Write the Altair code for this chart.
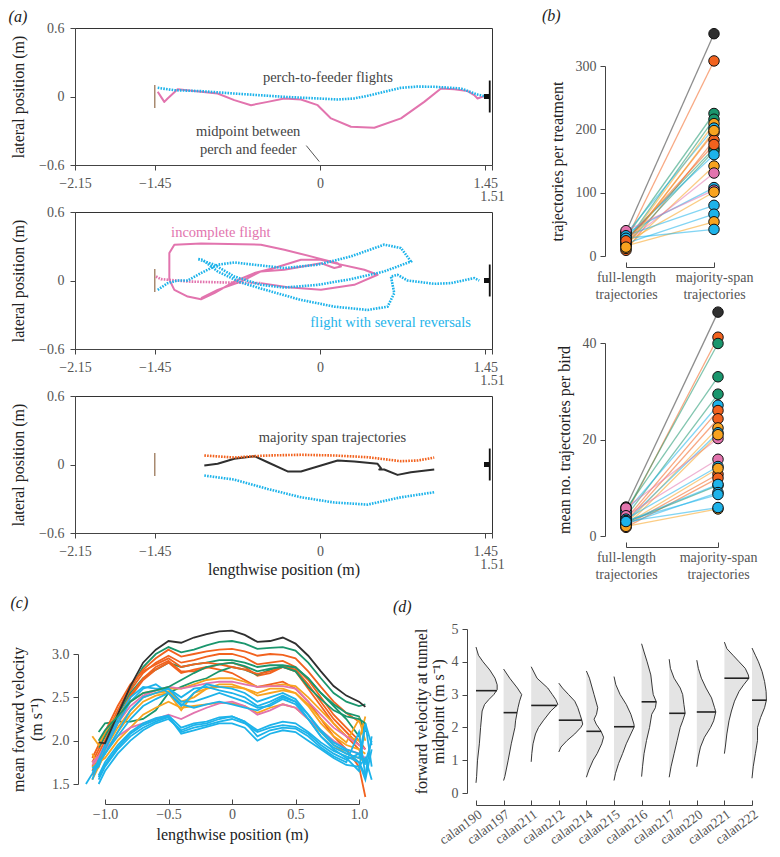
import altair as alt
import pandas as pd

FONT = "Liberation Serif"
BLACK = "#2f2f2f"
VERM = "#f2621e"
GREEN = "#1a966d"
SKY = "#1db3ea"
ORANGE = "#f8a31f"
PINK = "#e274ae"
PERCH = "#a88a70"
LABEL = "#555555"
INK = "#222222"

# ---------------- (a) trajectories (metres) ----------------
A1_BLUE_X = [-1.424, -1.278, -1.044, -0.752, -0.313, -0.020, 0.155, 0.301, 0.418, 0.564, 0.711, 0.857, 1.003, 1.149, 1.237, 1.383, 1.442]
A1_BLUE_Y = [0.076, 0.055, 0.047, 0.026, -0.003, -0.017, -0.026, -0.017, 0.006, 0.041, 0.076, 0.087, 0.085, 0.076, 0.070, 0.017, 0.003]
A1_PINK_X = [-1.424, -1.395, -1.366, -1.337, -1.249, -1.044, -0.898, -0.752, -0.605, -0.459, -0.313, -0.167, -0.020, 0.097, 0.272, 0.477, 0.711, 0.915, 1.062, 1.179, 1.296, 1.354, 1.383, 1.442]
A1_PINK_Y = [0.041, -0.003, -0.047, -0.017, 0.064, 0.041, 0.026, -0.032, -0.076, -0.047, -0.017, -0.026, -0.076, -0.192, -0.265, -0.274, -0.192, -0.047, 0.070, 0.064, 0.047, 0.012, -0.017, 0.003]

A2_PINKD_X = [-1.439, -1.395, -1.161, -0.810, -0.518]
A2_PINKD_Y = [0.035, 0.012, -0.009, -0.018, -0.023]
A2_PINK_X = [-0.518, -0.284, 0.009, 0.301, 0.506, 0.389, 0.126, 0.009, -0.167, -0.401, -0.576, -0.752, -0.927, -1.044, -1.161, -1.278, -1.322, -1.322, -1.278, -1.044, -0.518, -0.313, -0.020, 0.155, 0.184, 0.126, 0.009, -0.313, -0.518, -0.693, -0.898, -1.044]
A2_PINK_Y = [-0.023, -0.059, -0.082, -0.038, 0.050, 0.094, 0.152, 0.182, 0.182, 0.109, 0.065, -0.009, -0.111, -0.164, -0.141, -0.082, 0.006, 0.240, 0.314, 0.323, 0.314, 0.270, 0.196, 0.152, 0.123, 0.109, 0.152, 0.094, 0.079, -0.009, -0.082, -0.155]
A2_BLUE_X = [-1.424, -1.337, -1.249, -1.161, -1.044, -0.898, -0.752, -0.576, -0.313, -0.020, 0.272, 0.564, 0.711, 0.798, 0.564, 0.272, -0.020, -0.313, -0.518, -0.752, -0.927, -1.073, -1.030, -0.898, -0.693, -0.459, -0.167, 0.126, 0.418, 0.594, 0.652, 0.623, 0.681, 0.769, 1.003, 1.149, 1.354, 1.398]
A2_BLUE_Y = [-0.082, -0.023, 0.0, 0.0, 0.065, 0.138, 0.158, 0.138, 0.109, 0.138, 0.211, 0.314, 0.284, 0.167, 0.079, 0.012, -0.038, -0.062, -0.038, 0.035, 0.138, 0.188, 0.182, 0.079, -0.018, -0.088, -0.170, -0.229, -0.258, -0.229, -0.111, 0.035, 0.050, 0.0, -0.029, -0.023, 0.021, 0.0]

A3_ORANGE_X = [-1.015, -0.752, -0.576, -0.459, -0.167, 0.126, 0.418, 0.711, 0.857, 1.003]
A3_ORANGE_Y = [0.079, 0.061, 0.073, 0.079, 0.085, 0.079, 0.064, 0.029, 0.035, 0.061]
A3_BLACK_X = [-1.015, -0.898, -0.752, -0.576, -0.459, -0.284, -0.167, 0.009, 0.155, 0.301, 0.506, 0.535, 0.521, 0.564, 0.681, 0.798, 1.003]
A3_BLACK_Y = [-0.009, 0.006, 0.050, 0.073, 0.020, -0.061, -0.061, -0.009, 0.035, 0.026, 0.006, -0.032, -0.044, -0.044, -0.091, -0.067, -0.044]
A3_BLUE_X = [-1.015, -0.752, -0.459, -0.167, 0.126, 0.418, 0.711, 1.003]
A3_BLUE_Y = [-0.097, -0.132, -0.214, -0.287, -0.333, -0.351, -0.287, -0.243]

A_PATHS = [
    (1, "b", SKY, "dot", A1_BLUE_X, A1_BLUE_Y),
    (1, "p", PINK, "solid", A1_PINK_X, A1_PINK_Y),
    (2, "pd", PINK, "dot", A2_PINKD_X, A2_PINKD_Y),
    (2, "p", PINK, "solid", A2_PINK_X, A2_PINK_Y),
    (2, "b", SKY, "dot", A2_BLUE_X, A2_BLUE_Y),
    (3, "o", VERM, "dot", A3_ORANGE_X, A3_ORANGE_Y),
    (3, "k", BLACK, "solid", A3_BLACK_X, A3_BLACK_Y),
    (3, "b", SKY, "dot", A3_BLUE_X, A3_BLUE_Y),
]
A_TEXT = [
    (1, 0.07, 0.163, "perch-to-feeder flights", "#444444"),
    (1, -0.63, -0.315, "midpoint between", "#444444"),
    (1, -0.63, -0.47, "perch and feeder", "#444444"),
    (2, -0.87, 0.416, "incomplete flight", PINK),
    (2, 0.62, -0.37, "flight with several reversals", SKY),
    (3, 0.11, 0.23, "majority span trajectories", "#444444"),
]
PERCH_X, PERCH_HALF = -1.45, 0.10
FEEDER_X, FEEDER_HALF = 1.49, 0.14
FEEDER_BOX = (1.44, 1.49, 0.022)
MID_POINTER = (-0.12, -0.43, -0.006, -0.57)
A_XTICKS = [-2.15, -1.45, 0, 1.45, 1.51]
A_YTICKS = [-0.6, 0, 0.6]

# ---------------- (b) trajectory counts ----------------
B_CATS = ["full-length trajectories", "majority-span trajectories"]
B1_COLORS = [BLACK, VERM, GREEN, GREEN, ORANGE, SKY, VERM, VERM, GREEN, GREEN, SKY, ORANGE, PINK, SKY, PINK, ORANGE, SKY, SKY, ORANGE, SKY, VERM, ORANGE]
B1_FULL = [38, 25, 30, 22, 20, 35, 18, 9, 25, 18, 30, 12, 21, 36, 40, 22, 32, 20, 16, 28, 24, 14]
B1_MAJ = [351, 308, 225, 216, 209, 202, 195, 183, 170, 166, 160, 142, 131, 108, 104, 101, 80, 66, 54, 42, 176, 198]

B2_COLORS = [BLACK, VERM, GREEN, GREEN, GREEN, SKY, VERM, VERM, ORANGE, SKY, PINK, ORANGE, PINK, VERM, SKY, ORANGE, VERM, GREEN, SKY, SKY, SKY, ORANGE, SKY]
B2_FULL = [6.0, 4.5, 5.0, 5.5, 4.0, 5.0, 3.5, 3.0, 2.5, 3.0, 5.8, 2.0, 4.2, 2.2, 3.5, 2.5, 1.8, 2.8, 3.0, 2.5, 3.2, 2.0, 3.0]
B2_MAJ = [46.4, 41.2, 39.9, 33.0, 29.4, 27.1, 26.0, 24.3, 22.4, 21.4, 20.2, 21.0, 15.9, 12.8, 14.4, 14.0, 12.0, 10.5, 10.7, 9.0, 8.6, 5.6, 5.9]

# ---------------- (c) mean forward velocity profiles ----------------
N = None
C_X = [-1.15, -1.1, -1.05, -1.0, -0.9, -0.8, -0.7, -0.6, -0.5, -0.4, -0.3, -0.2, -0.1, 0.0, 0.1, 0.2, 0.3, 0.4, 0.5, 0.6, 0.7, 0.8, 0.9, 1.0, 1.05, 1.1]
C_COLORS = [GREEN, VERM, VERM, GREEN, VERM, VERM, GREEN, VERM,
            ORANGE, ORANGE, ORANGE, ORANGE, PINK, PINK,
            SKY, SKY, SKY, SKY, SKY, SKY, SKY, SKY, BLACK, GREEN]
C_VALUES = [
    [N, N, 1.95, 2.08, 2.30, 2.60, 2.85, 3.00, 3.08, 3.02, 3.05, 3.10, 3.14, 3.15, 3.12, 3.06, 3.07, 3.08, 3.04, 2.90, 2.72, 2.55, 2.45, 2.40, 2.42, N],
    [N, 1.75, 1.90, 2.05, 2.35, 2.62, 2.82, 2.95, 3.05, 2.97, 3.00, 3.03, 3.05, 3.06, 3.03, 2.98, 3.00, 2.99, 2.95, 2.80, 2.62, 2.45, 2.32, 2.22, 2.15, N],
    [N, 1.70, 1.85, 2.00, 2.30, 2.58, 2.78, 2.90, 2.98, 2.90, 2.93, 2.97, 3.00, 3.00, 2.96, 2.88, 2.90, 2.92, 2.85, 2.70, 2.50, 2.30, 2.15, 2.00, 1.90, N],
    [N, N, 1.92, 2.05, 2.30, 2.55, 2.72, 2.82, 2.90, 2.85, 2.88, 2.90, 2.93, 2.93, 2.90, 2.85, 2.87, 2.87, 2.85, 2.72, 2.55, 2.42, 2.32, 2.28, 2.10, N],
    [N, 1.65, 1.80, 1.95, 2.25, 2.52, 2.72, 2.85, 2.92, 2.80, 2.80, 2.84, 2.88, 2.90, 2.85, 2.75, 2.78, 2.85, 2.80, 2.60, 2.40, 2.20, 2.05, 1.90, 1.75, N],
    [N, 1.60, 1.75, 1.90, 2.20, 2.50, 2.70, 2.82, 2.90, 2.78, 2.82, 2.85, 2.82, 2.78, 2.70, 2.62, 2.65, 2.68, 2.60, 2.45, 2.25, 2.05, 1.90, 1.70, 1.35, N],
    [N, N, 2.10, 2.20, 2.22, 2.22, 2.25, 2.35, 2.55, 2.62, 2.68, 2.72, 2.80, 2.85, 2.82, 2.76, 2.82, 2.86, 2.84, 2.72, 2.55, 2.40, 2.25, 2.05, 2.15, N],
    [N, 1.80, 1.95, 2.10, 2.40, 2.65, 2.80, 2.88, 2.95, 2.85, 2.88, 2.90, 2.88, 2.85, 2.82, 2.77, 2.80, 2.85, 2.82, 2.65, 2.45, 2.25, 2.10, 1.95, 1.90, N],
    [N, 2.05, 1.95, 2.10, 2.30, 2.45, 2.55, 2.58, 2.60, 2.60, 2.65, 2.70, 2.72, 2.72, 2.68, 2.62, 2.63, 2.65, 2.63, 2.50, 2.35, 2.20, 2.05, 2.00, 2.28, N],
    [N, 1.55, 1.70, 1.85, 2.10, 2.30, 2.45, 2.52, 2.55, 2.35, 2.55, 2.60, 2.62, 2.62, 2.60, 2.55, 2.60, 2.60, 2.55, 2.40, 2.20, 2.05, 1.95, 1.90, 1.85, N],
    [N, 1.70, 1.75, 1.80, 2.00, 2.15, 2.30, 2.38, 2.45, 2.38, 2.40, 2.42, 2.44, 2.43, 2.40, 2.32, 2.38, 2.42, 2.38, 2.25, 2.10, 1.95, 1.85, 1.80, 1.75, N],
    [N, 1.85, 1.70, 1.90, 2.15, 2.35, 2.50, 2.55, 2.57, 2.45, 2.50, 2.60, 2.65, 2.65, 2.60, 2.52, 2.55, 2.58, 2.55, 2.42, 2.25, 2.10, 1.98, 2.25, 2.00, N],
    [N, 1.75, 1.82, 1.95, 2.20, 2.40, 2.52, 2.58, 2.62, 2.60, 2.63, 2.66, 2.68, 2.68, 2.65, 2.62, 2.63, 2.63, 2.60, 2.45, 2.30, 2.15, 2.05, 1.95, 1.90, N],
    [N, 1.72, 1.80, 1.90, 2.05, 2.15, 2.20, 2.25, 2.30, 2.25, 2.32, 2.38, 2.43, 2.45, 2.40, 2.30, 2.35, 2.42, 2.38, 2.25, 2.12, 2.00, 1.90, 1.85, 1.80, N],
    [1.50, 1.62, 1.78, 1.95, 2.25, 2.50, 2.62, 2.60, 2.60, 2.50, 2.60, 2.62, 2.58, 2.55, 2.50, 2.40, 2.45, 2.52, 2.45, 2.25, 2.05, 1.92, 1.85, 1.80, 2.20, 1.70],
    [N, 1.65, 1.70, 1.90, 2.20, 2.45, 2.60, 2.65, 2.55, 2.40, 2.55, 2.65, 2.62, 2.60, 2.55, 2.45, 2.50, 2.55, 2.48, 2.30, 2.10, 1.95, 1.88, 1.75, 1.60, 2.05],
    [N, 1.55, 1.75, 1.85, 2.10, 2.35, 2.50, 2.55, 2.60, 2.45, 2.45, 2.50, 2.55, 2.50, 2.45, 2.38, 2.40, 2.48, 2.42, 2.25, 2.05, 1.90, 1.80, 1.65, 2.20, 1.95],
    [N, N, 1.50, 1.65, 1.85, 2.00, 2.12, 2.20, 2.25, 2.12, 2.18, 2.20, 2.25, 2.28, 2.22, 2.12, 2.18, 2.22, 2.20, 2.10, 1.98, 1.88, 1.82, 1.75, 1.55, 1.90],
    [N, N, 1.55, 1.70, 1.90, 2.05, 2.15, 2.22, 2.27, 2.10, 2.15, 2.18, 2.22, 2.25, 2.20, 2.10, 2.15, 2.18, 2.16, 2.08, 1.95, 1.85, 1.78, 1.85, 1.75, 2.00],
    [N, N, 1.60, 1.75, 1.95, 2.10, 2.20, 2.26, 2.29, 2.15, 2.20, 2.22, 2.27, 2.28, 2.22, 2.05, 2.12, 2.15, 2.14, 2.05, 1.92, 1.82, 1.75, 2.10, 1.60, N],
    [N, N, 1.58, 1.72, 1.92, 2.08, 2.18, 2.24, 2.28, 2.08, 2.12, 2.16, 2.20, 2.20, 2.15, 2.00, 2.08, 2.12, 2.10, 2.00, 1.90, 1.80, 1.72, 1.70, 1.80, 1.55],
    [N, 1.68, 1.75, 1.85, 2.05, 2.25, 2.40, 2.48, 2.55, 2.42, 2.38, 2.42, 2.45, 2.42, 2.38, 2.35, 2.42, 2.50, 2.45, 2.30, 2.12, 1.98, 1.90, 1.85, 1.72, N],
    [N, N, 1.98, 1.97, 2.30, 2.63, 2.90, 3.05, 3.15, 3.13, 3.19, 3.23, 3.26, 3.27, 3.22, 3.14, 3.15, 3.19, 3.12, 2.98, 2.80, 2.63, 2.52, 2.45, 2.39, N],
    [N, N, 2.00, 2.12, 2.28, 2.45, 2.55, 2.58, 2.62, 2.70, 2.78, 2.85, 2.88, 2.90, 2.86, 2.80, 2.83, 2.85, 2.80, 2.62, 2.48, 2.35, 2.28, 2.25, 2.20, N],
]

# ---------------- (d) velocity distributions at midpoint ----------------
D_NAMES = ["calan190", "calan197", "calan211", "calan212", "calan214", "calan215",
           "calan216", "calan217", "calan220", "calan221", "calan222"]
D_MEDIAN = [3.12, 2.45, 2.67, 2.22, 1.88, 2.02, 2.78, 2.43, 2.47, 3.50, 2.83]
D_MEDIAN_DENS = [68, 44, 84, 75, 48, 66, 48, 52, 62, 80, 47]
D_V = [
    [4.45, 4.2, 4.0, 3.75, 3.5, 3.3, 3.15, 3.0, 2.85, 2.7, 2.5, 2.0, 1.5, 1.0, 0.5, 0.31],
    [3.78, 3.5, 3.2, 3.0, 2.8, 2.6, 2.45, 2.2, 2.0, 1.5, 1.0, 0.5, 0.38],
    [3.85, 3.5, 3.2, 3.0, 2.85, 2.7, 2.5, 2.2, 2.0, 1.8, 1.5, 1.2, 0.95],
    [3.35, 3.2, 3.0, 2.8, 2.6, 2.4, 2.22, 2.1, 2.0, 1.8, 1.6, 1.4, 1.25],
    [3.72, 3.5, 3.0, 2.6, 2.4, 2.25, 2.1, 1.88, 1.7, 1.5, 1.2, 1.0, 0.7, 0.48],
    [3.55, 3.3, 3.0, 2.7, 2.4, 2.1, 2.02, 1.8, 1.5, 1.2, 0.9, 0.6, 0.38],
    [4.55, 4.3, 4.0, 3.6, 3.2, 3.0, 2.78, 2.6, 2.4, 2.0, 1.6, 1.2, 0.8, 0.5],
    [4.08, 3.8, 3.5, 3.2, 3.0, 2.7, 2.43, 2.2, 2.0, 1.6, 1.2, 0.8, 0.48],
    [4.05, 3.8, 3.5, 3.2, 2.9, 2.6, 2.47, 2.2, 2.0, 1.7, 1.4, 1.1, 0.8],
    [4.6, 4.4, 4.2, 4.0, 3.8, 3.6, 3.5, 3.3, 3.1, 2.8, 2.5, 2.2, 1.8, 1.4, 1.2],
    [4.42, 4.2, 4.0, 3.7, 3.4, 3.1, 2.83, 2.6, 2.3, 2.0, 1.6, 1.2, 0.8, 0.45],
]
D_DENS = [
    [0, 8, 23, 45, 62, 69, 69, 58, 42, 28, 20, 15, 11, 5, 2, 0],
    [0, 20, 45, 59, 52, 47, 44, 39, 37, 25, 15, 4, 0],
    [0, 19, 54, 69, 80, 87, 64, 39, 24, 14, 6, 2, 0],
    [0, 12, 32, 52, 62, 69, 75, 78, 72, 52, 27, 7, 0],
    [0, 10, 25, 37, 33, 25, 32, 48, 56, 50, 35, 22, 8, 0],
    [0, 6, 20, 40, 55, 65, 66, 55, 40, 28, 15, 5, 0],
    [0, 8, 18, 30, 35, 38, 48, 45, 33, 26, 16, 8, 3, 0],
    [0, 4, 16, 36, 44, 48, 52, 44, 36, 26, 16, 6, 0],
    [0, 5, 15, 30, 48, 58, 62, 55, 45, 25, 12, 5, 0],
    [0, 8, 28, 48, 68, 78, 80, 63, 48, 33, 23, 15, 8, 3, 0],
    [0, 11, 21, 33, 41, 46, 47, 41, 28, 18, 18, 11, 4, 0],
]
D_DENS_PER_SLOT = 90.0


def title(txt, dx, offset):
    return alt.TitleParams(txt, anchor="start", frame="bounds", dx=dx, offset=offset,
                           fontSize=16, font=FONT, fontStyle="italic", fontWeight="normal", color=INK)


# ---------- panel (a) ----------
rows = []
for sub, name, col, style, xs, ys in A_PATHS:
    for i, (x, y) in enumerate(zip(xs, ys)):
        rows.append(dict(sub=sub, path=f"{sub}{name}", col=col, style=style, i=i, x=x, y=y))
adf = pd.DataFrame(rows)
tdf = pd.DataFrame([dict(sub=s, x=x, y=y, t=t, col=c) for s, x, y, t, c in A_TEXT])

ax_scale = alt.Scale(domain=[-2.15, 1.51], nice=False, zero=False)
ay_scale = alt.Scale(domain=[-0.6, 0.6], nice=False, zero=False)


def a_panel(sub, show_xtitle, ttl=None):
    xaxis = alt.Axis(values=A_XTICKS, format=".2~f", tickSize=5,
                     labelPadding={"condition": {"test": "datum.value > 1.5", "value": 19}, "value": 6},
                     title="lengthwise position (m)" if show_xtitle else None, titleY=28, titleBaseline="top")
    yaxis = alt.Axis(values=A_YTICKS, format=".1~f", tickSize=5, labelPadding=6, title="lateral position (m)", titlePadding=12)
    X = alt.X("x:Q", scale=ax_scale, axis=xaxis)
    Y = alt.Y("y:Q", scale=ay_scale, axis=yaxis)
    d = adf[adf["sub"] == sub]
    solid = alt.Chart(d[d["style"] == "solid"]).mark_line(strokeWidth=2, strokeJoin="round").encode(
        x=X, y=Y, color=alt.Color("col:N", scale=None), detail="path:N", order="i:Q")
    dot = alt.Chart(d[d["style"] == "dot"]).mark_line(strokeWidth=2.6, strokeDash=[1.6, 1.2]).encode(
        x=X, y=Y, color=alt.Color("col:N", scale=None), detail="path:N", order="i:Q")
    perch = alt.Chart(pd.DataFrame([dict(x=PERCH_X, y=-PERCH_HALF, y2=PERCH_HALF)])).mark_rule(color=PERCH, strokeWidth=1.5).encode(
        x=X, y=Y, y2="y2:Q")
    feeder = alt.Chart(pd.DataFrame([dict(x=FEEDER_X, y=-FEEDER_HALF, y2=FEEDER_HALF)])).mark_rule(color="#111", strokeWidth=1.8).encode(
        x=X, y=Y, y2="y2:Q")
    box = alt.Chart(pd.DataFrame([dict(x=FEEDER_BOX[0], x2=FEEDER_BOX[1], y=-FEEDER_BOX[2], y2=FEEDER_BOX[2])])).mark_rect(color="#111").encode(
        x=X, x2="x2:Q", y=Y, y2="y2:Q")
    texts = alt.Chart(tdf[tdf["sub"] == sub]).mark_text(font=FONT, fontSize=14.5).encode(
        x=X, y=Y, text="t:N", color=alt.Color("col:N", scale=None))
    layers = [perch, solid, dot, feeder, box, texts]
    if sub == 1:
        mp = alt.Chart(pd.DataFrame([dict(x=MID_POINTER[0], y=MID_POINTER[1], x2=MID_POINTER[2], y2=MID_POINTER[3])])).mark_rule(
            color="#555", strokeWidth=1).encode(x=X, y=Y, x2="x2:Q", y2="y2:Q")
        layers.append(mp)
    ch = alt.layer(*layers).properties(width=417, height=137, view=alt.ViewBackground(stroke="#333", strokeWidth=1))
    if ttl is not None:
        ch = ch.properties(title=ttl)
    return ch


a1 = a_panel(1, False, title("(a)", -2, -4))
a2 = a_panel(2, False)
a3 = a_panel(3, True)


# ---------- panel (b) ----------
def b_panel(full, maj, colors, ydom, yrange, yvals, ytitle, w, h, ttl=None):
    rows = []
    for i, (f, m, c) in enumerate(zip(full, maj, colors)):
        rows.append(dict(id=i, cat=B_CATS[0], v=f, c=c, o=0))
        rows.append(dict(id=i, cat=B_CATS[1], v=m, c=c, o=1))
    df = pd.DataFrame(rows)
    xs = alt.Scale(type="point", domain=B_CATS, padding=0)
    ys = alt.Scale(domain=ydom, range=yrange, nice=False, zero=True)
    yax = alt.Axis(values=yvals, format="d", offset=21, tickSize=5, labelPadding=4, title=ytitle, titlePadding=10)
    Y = alt.Y("v:Q", scale=ys, axis=yax)
    lines = alt.Chart(df).mark_line(strokeWidth=1.3, opacity=0.55).encode(
        x=alt.X("cat:N", scale=xs, axis=alt.Axis(orient="bottom", offset=11, ticks=False, labels=False, title=None)),
        y=Y, color=alt.Color("c:N", scale=None), detail="id:N", order="o:Q")
    pts = alt.Chart(df).mark_circle(size=110, opacity=1, stroke="#111", strokeWidth=1).encode(
        x=alt.X("cat:N", scale=xs, axis=alt.Axis(orient="bottom", offset=6, domain=False, tickSize=5, labelAngle=0,
                                                 labelExpr="split(datum.label, ' ')", labelPadding=3, labelLineHeight=17,
                                                 labelFontSize=14, labelBaseline="top", title=None)),
        y=Y, fill=alt.Fill("c:N", scale=None))
    ch = alt.layer(lines, pts).resolve_axis(x="independent").properties(width=w, height=h)
    if ttl is not None:
        ch = ch.properties(title=ttl)
    return ch


b1 = b_panel(B1_FULL, B1_MAJ, B1_COLORS, [0, 300], [228, 38], [0, 100, 200, 300], "trajectories per treatment", 88, 228,
             title("(b)", -7, 2))
b2 = b_panel(B2_FULL, B2_MAJ, B2_COLORS, [0, 40], [193, 0], [0, 20, 40], "mean no. trajectories per bird", 92, 193)

# ---------- panel (c) ----------
rows = []
for li, (col, vals) in enumerate(zip(C_COLORS, C_VALUES)):
    for x, v in zip(C_X, vals):
        if v is not None:
            rows.append(dict(line=li, x=x, v=v, c=col))
cdf = pd.DataFrame(rows)
cxs = alt.Scale(domain=[-1, 1], range=[30, 284], nice=False, zero=False)
cys = alt.Scale(domain=[1.5, 3.0], range=[155, 25], nice=False, zero=False)
CY = alt.Y("v:Q", scale=cys, axis=alt.Axis(values=[1.5, 2.0, 2.5, 3.0], format=".1f", offset=-3, tickSize=5, labelPadding=4,
                                          title=["mean forward velocity", "(m s⁻¹)"], titleLineHeight=18, titlePadding=7))
c_lines = alt.Chart(cdf).mark_line(strokeWidth=1.8).encode(
    x=alt.X("x:Q", scale=cxs, axis=alt.Axis(orient="bottom", offset=20, ticks=False, labels=False, title=None)),
    y=CY, color=alt.Color("c:N", scale=None), detail="line:N")
c_ax = alt.Chart(cdf).mark_line(opacity=0).encode(
    x=alt.X("x:Q", scale=cxs, axis=alt.Axis(orient="bottom", offset=15, domain=False, tickSize=5, values=[-1, -0.5, 0, 0.5, 1],
                                            labelExpr="datum.value == 0 ? '0' : format(datum.value, '.1f')", labelPadding=3,
                                            title="lengthwise position (m)", titlePadding=5)),
    y=CY, detail="line:N")
C = alt.layer(c_lines, c_ax).resolve_axis(x="independent").properties(width=284, height=155, title=title("(c)", 0, 16))

# ---------- panel (d) ----------
rows = []
for i, (vs, ws) in enumerate(zip(D_V, D_DENS)):
    for v, w in zip(vs, ws):
        rows.append(dict(bird=D_NAMES[i], v=v, xl=i, xr=i + w / D_DENS_PER_SLOT))
ddf = pd.DataFrame(rows)
mdf = pd.DataFrame([dict(bird=D_NAMES[i], v=D_MEDIAN[i], xl=i, xr=i + D_MEDIAN_DENS[i] / D_DENS_PER_SLOT) for i in range(len(D_NAMES))])
dxs = alt.Scale(domain=[0, 10], nice=False, zero=False)
dys = alt.Scale(domain=[0, 5], nice=False, zero=True)
names_js = "[" + ",".join(f"'{n}'" for n in D_NAMES) + "]"
DY = alt.Y("v:Q", scale=dys, axis=alt.Axis(values=[0, 1, 2, 3, 4, 5], offset=9, tickSize=5, labelPadding=4,
                                          title=["forward velocity at tunnel", "midpoint (m s⁻¹)"], titleLineHeight=17, titlePadding=5))
d_area = alt.Chart(ddf).mark_area(orient="horizontal", color="#e4e4e4").encode(
    y=DY, x=alt.X("xr:Q", scale=dxs, axis=alt.Axis(orient="bottom", offset=12, ticks=False, labels=False, title=None)),
    x2="xl:Q", detail="bird:N")
d_line = alt.Chart(ddf).mark_line(color="#222", strokeWidth=0.9).encode(
    y=DY, x=alt.X("xr:Q", scale=dxs, axis=None), order="v:Q", detail="bird:N")
d_med = alt.Chart(mdf).mark_rule(color="#222", strokeWidth=1.6).encode(
    y=DY,
    x=alt.X("xl:Q", scale=dxs, axis=alt.Axis(orient="bottom", offset=7, domain=False, tickSize=5, values=list(range(11)),
                                             labelExpr=names_js + "[datum.value]", labelAngle=-36, labelAlign="right",
                                             labelBaseline="top", labelPadding=2, labelFontSize=13.5, title=None)),
    x2="xr:Q")
D = alt.layer(d_area, d_line, d_med).resolve_axis(x="independent").properties(width=276, height=164, title=title("(d)", -20, 7))

A = alt.vconcat(a1, a2, a3, spacing=0)
B = alt.vconcat(b1, b2, spacing=3)
top = alt.concat(A, B, columns=2, spacing=37, align="none")
bottom = alt.concat(C, D, columns=2, spacing=17, align="none")
chart = alt.vconcat(top, bottom, spacing=14).properties(padding=0).configure_view(stroke=None).configure_axis(
    labelFont=FONT, titleFont=FONT, labelFontSize=14, titleFontSize=16, labelColor=LABEL, titleColor=INK,
    titleFontWeight="normal", domainColor="#444", tickColor="#444", grid=False, labelFlush=False, labelOverlap=False
)

chart.save("out.html", embed_options={"renderer": "svg", "actions": False})
